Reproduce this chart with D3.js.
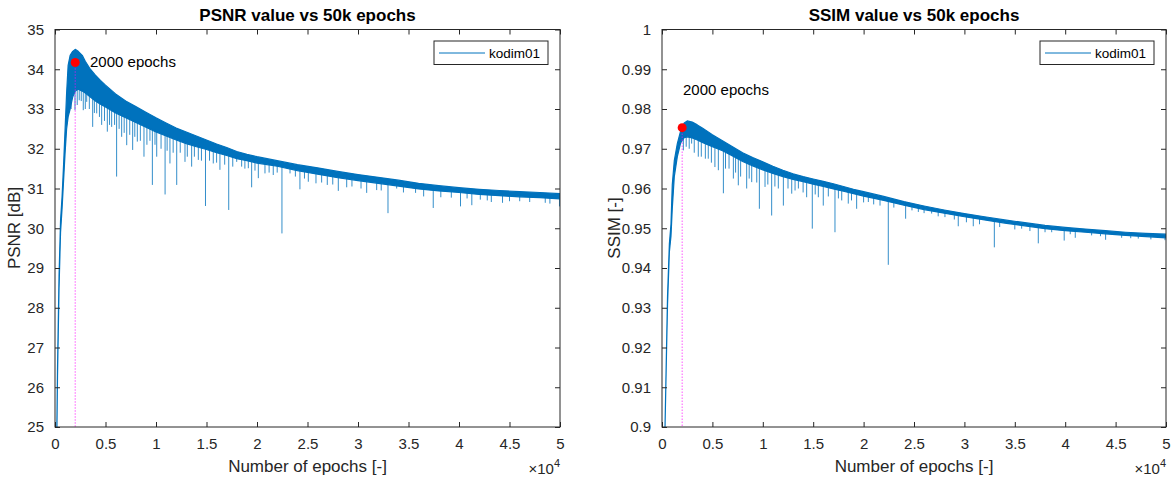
<!DOCTYPE html>
<html>
<head>
<meta charset="utf-8">
<script src="https://cdn.jsdelivr.net/npm/d3@7"></script>
<style>
  html, body { margin: 0; padding: 0; background: #fff; }
  svg { display: block; font-family: "Liberation Sans", Arial, Helvetica, sans-serif; }
</style>
</head>
<body>
<svg id="chart" width="1175" height="477"></svg>
<script>
// ---- shared x axis ----
const xTickValues = [0, 5000, 10000, 15000, 20000, 25000, 30000, 35000, 40000, 45000, 50000];
const xTickLabels = ["0", "0.5", "1", "1.5", "2", "2.5", "3", "3.5", "4", "4.5", "5"];
const markEpoch = 2000;

// ---- PSNR: upper / lower edge of the dense band, sampled by epoch ----
const psnrEpochs = [100, 250, 400, 550, 700, 850, 1000, 1150, 1300, 1500, 1750, 2000, 2300, 2700, 3000, 3500, 4000, 4500, 5000,
  6000, 7000, 8000, 9000, 10000, 11000, 12000, 13000, 14000, 15000, 16000, 17000, 18000, 19000, 20000,
  22000, 24000, 26000, 28000, 30000, 32000, 34000, 36000, 38000, 40000, 42000, 44000, 46000, 48000, 50000];
const psnrTop = [23.0, 26.5, 28.8, 30.2, 30.8, 31.6, 32.5, 33.4, 34.1, 34.35, 34.45, 34.5, 34.45, 34.35, 34.2, 34.0, 33.85, 33.72, 33.6,
  33.38, 33.2, 33.06, 32.92, 32.78, 32.65, 32.52, 32.42, 32.32, 32.22, 32.12, 32.03, 31.93, 31.86, 31.8,
  31.7, 31.6, 31.52, 31.43, 31.35, 31.28, 31.21, 31.13, 31.07, 31.02, 30.98, 30.95, 30.92, 30.9, 30.87];
const psnrBottom = [23.0, 26.3, 28.5, 29.9, 30.5, 31.2, 31.9, 32.5, 32.8, 33.0, 33.3, 33.45, 33.5, 33.45, 33.4, 33.3, 33.2, 33.12, 33.05,
  32.9, 32.78, 32.66, 32.54, 32.42, 32.32, 32.22, 32.13, 32.05, 31.98, 31.9, 31.83, 31.75, 31.7, 31.64,
  31.56, 31.45, 31.36, 31.27, 31.2, 31.13, 31.06, 30.99, 30.94, 30.9, 30.85, 30.82, 30.79, 30.77, 30.74];
// downward dips below the band: epoch and lowest value
const psnrDipEpochs = [1980, 2400, 2800, 3140, 3730, 4130, 4620, 5180, 5610, 6100, 6600, 7100, 7690, 8150, 8810, 9640, 10070, 10900,
  11380, 12050, 12870, 13530, 14190, 14900, 15670, 16330, 17200, 17990, 18480, 19140, 19470, 20130, 20790, 21610, 22470, 23270,
  24250, 25080, 25840, 26960, 28050, 28880, 30860, 31850, 32970, 33830, 35700, 37450, 39240, 40150, 41270, 42110, 43200, 44310,
  46010, 48540, 49950,
  1600, 2200, 2600, 3000, 3400, 3900, 4400, 4900, 5400, 5900, 6350, 6850, 7400, 7900, 8450, 9100, 9400, 9900, 10500, 11100,
  11700, 12400, 13100, 13800, 14500, 15300, 16000, 16800, 17600, 18800, 19800, 21200, 22000, 23800, 24700, 26400, 27500,
  29400, 30300, 32300, 34500, 36500, 38200, 40800, 42800, 45000, 47000, 49000];
const psnrDipValues = [32.97, 33.22, 32.97, 33.18, 32.55, 32.89, 32.6, 32.43, 32.55, 31.3, 32.3, 32.09, 31.97, 32.18, 31.8, 31.09, 31.8, 30.85,
  31.63, 31.09, 31.67, 31.55, 31.72, 30.56, 31.63, 31.47, 30.46, 31.67, 31.55, 31.51, 31.03, 31.26, 31.38, 31.34, 29.87, 31.38,
  30.98, 31.17, 31.13, 31.09, 30.94, 31.03, 30.89, 30.96, 30.38, 31.0, 30.89, 30.51, 30.77, 30.55, 30.58, 30.72, 30.66, 30.64,
  30.68, 30.64, 30.55,
  33.0, 33.1, 33.2, 33.0, 33.0, 32.9, 32.8, 32.7, 32.6, 32.6, 32.5, 32.4, 32.35, 32.3, 32.2, 32.1, 32.2, 32.1, 32.0, 31.95,
  31.9, 31.9, 31.8, 31.8, 31.7, 31.7, 31.65, 31.6, 31.55, 31.5, 31.45, 31.4, 31.4, 31.3, 31.25, 31.15, 31.1,
  31.05, 31.0, 30.95, 30.9, 30.8, 30.78, 30.75, 30.7, 30.68, 30.66, 30.62];
const psnrTicks = [25, 26, 27, 28, 29, 30, 31, 32, 33, 34, 35];
const psnrTickLabels = ["25", "26", "27", "28", "29", "30", "31", "32", "33", "34", "35"];
const psnrMark = 34.17;

// ---- SSIM ----
const ssimEpochs = [100, 300, 450, 550, 730, 890, 1020, 1220, 1520, 1850, 2200, 2500, 3000, 3500, 4000, 5000,
  6000, 7000, 8000, 9000, 10000, 11000, 12000, 13000, 14000, 15000, 16000, 17000, 18000, 19000, 20000,
  22000, 24000, 26000, 28000, 30000, 32000, 34000, 36000, 38000, 40000, 42000, 44000, 46000, 48000, 50000];
const ssimTop = [0.85, 0.90, 0.92, 0.933, 0.946, 0.951, 0.961, 0.967, 0.9713, 0.9745, 0.9765, 0.9770, 0.9767, 0.9760, 0.9752, 0.9735,
  0.9720, 0.9705, 0.9690, 0.9678, 0.9667, 0.9656, 0.9646, 0.9637, 0.9630, 0.9624, 0.9618, 0.9612, 0.9605, 0.9598, 0.9592,
  0.9580, 0.9567, 0.9556, 0.9546, 0.9537, 0.9529, 0.9521, 0.9514, 0.9507, 0.9502, 0.9498, 0.9494, 0.9490, 0.9487, 0.9485];
const ssimBottom = [0.85, 0.90, 0.919, 0.931, 0.944, 0.948, 0.955, 0.963, 0.968, 0.9715, 0.9728, 0.9730, 0.9727, 0.9722, 0.9716, 0.9705,
  0.9695, 0.9682, 0.9668, 0.9657, 0.9647, 0.9638, 0.9630, 0.9623, 0.9617, 0.9611, 0.9605, 0.9599, 0.9593, 0.9587, 0.9581,
  0.9570, 0.9558, 0.9547, 0.9538, 0.9529, 0.9521, 0.9513, 0.9506, 0.9499, 0.9494, 0.9490, 0.9486, 0.9482, 0.9479, 0.9476];
const ssimDipEpochs = [2120, 2940, 3600, 4590, 5250, 5590, 6090, 6650, 7080, 7570, 8400, 8900, 9660, 10220, 10880, 11540, 12040,
  12870, 13530, 14350, 14910, 15510, 16000, 17160, 17830, 18480, 19310, 20470, 21630, 22450, 24170, 25430, 26750, 28070,
  29390, 30880, 32970, 34360, 35680, 37330, 38660, 39900, 41000, 42620, 44010, 45600, 47250, 49900,
  2400, 2700, 3200, 3900, 4300, 4900, 6300, 7300, 7800, 8650, 9400, 10500, 11200, 12500, 13200, 14000, 15200, 16500,
  17500, 18800, 20000, 21000, 23000, 24800, 26000, 27400, 29000, 30200, 31500, 33500, 35000, 36500, 38000, 40500,
  43500, 46500, 48500];
const ssimDipValues = [0.9696, 0.9713, 0.968, 0.9675, 0.9654, 0.9646, 0.9588, 0.965, 0.9625, 0.9608, 0.960, 0.9616, 0.9549, 0.9604,
  0.9532, 0.960, 0.9557, 0.9587, 0.960, 0.9578, 0.9499, 0.9578, 0.9557, 0.949, 0.957, 0.9562, 0.9549, 0.9566, 0.9557, 0.9408,
  0.9524, 0.9541, 0.9537, 0.9528, 0.9505, 0.9505, 0.9452, 0.9511, 0.9499, 0.9462, 0.949, 0.9469, 0.9476, 0.9482, 0.9471,
  0.9476, 0.9474, 0.947,
  0.9705, 0.9700, 0.9690, 0.9680, 0.9675, 0.9665, 0.9650, 0.9640, 0.9630, 0.9625, 0.9615, 0.9610, 0.9605, 0.9600, 0.9595,
  0.9590, 0.9585, 0.9580, 0.9575, 0.9570, 0.9565, 0.9560, 0.9552, 0.9545, 0.9538, 0.9530, 0.9522, 0.9515, 0.9510, 0.9503,
  0.9497, 0.9493, 0.9490, 0.9485, 0.9480, 0.9475, 0.9472];
const ssimTicks = [0.9, 0.91, 0.92, 0.93, 0.94, 0.95, 0.96, 0.97, 0.98, 0.99, 1];
const ssimTickLabels = ["0.9", "0.91", "0.92", "0.93", "0.94", "0.95", "0.96", "0.97", "0.98", "0.99", "1"];
const ssimMark = 0.9753;

const seriesName = "kodim01";
const lineColor = "#0072BD";
const axisColor = "#262626";
const fontStack = '"Liberation Sans", Arial, Helvetica, sans-serif';

const svg = d3.select("#chart");

function drawPanel(cfg) {
  const x = d3.scaleLinear().domain([0, 50000]).range([cfg.left, cfg.right]);
  const y = d3.scaleLinear().domain(cfg.yDomain).range([427, 29.5]);
  const g = svg.append("g");
  const clipId = "clip-" + cfg.id;
  g.append("clipPath").attr("id", clipId)
    .append("rect").attr("x", cfg.left).attr("y", 29.5)
    .attr("width", cfg.right - cfg.left).attr("height", 427 - 29.5);

  const plot = g.append("g").attr("clip-path", `url(#${clipId})`);
  const rows = cfg.epochs.map((e, i) => ({ e, top: cfg.top[i], bottom: cfg.bottom[i] }));

  // dense band of the noisy curve
  const area = d3.area().x(d => x(d.e)).y0(d => y(d.bottom)).y1(d => y(d.top));
  plot.append("path").datum(rows).attr("d", area)
    .attr("fill", lineColor).attr("stroke", lineColor).attr("stroke-width", 1.2)
    .attr("stroke-linejoin", "round");

  // isolated dips below the band, hanging from its lower edge
  const edgeAt = e => {
    const i = Math.min(cfg.epochs.length - 1, Math.max(1, d3.bisectLeft(cfg.epochs, e)));
    const e0 = cfg.epochs[i - 1], e1 = cfg.epochs[i];
    const t = (e - e0) / (e1 - e0);
    return cfg.bottom[i - 1] + t * (cfg.bottom[i] - cfg.bottom[i - 1]);
  };
  plot.selectAll("line.dip").data(cfg.dipEpochs).join("line")
    .attr("class", "dip")
    .attr("x1", d => x(d)).attr("x2", d => x(d))
    .attr("y1", d => y(edgeAt(d)) - 2)
    .attr("y2", (d, i) => y(cfg.dipValues[i]))
    .attr("stroke", lineColor).attr("stroke-width", 1).attr("stroke-opacity", 0.8);

  // marker at 2000 epochs
  plot.append("line")
    .attr("x1", x(markEpoch)).attr("x2", x(markEpoch))
    .attr("y1", y(cfg.mark)).attr("y2", 427)
    .attr("stroke", "#FF00FF").attr("stroke-width", 1).attr("stroke-dasharray", "1,2");
  g.append("circle").attr("cx", x(markEpoch)).attr("cy", y(cfg.mark)).attr("r", 4.5)
    .attr("fill", "#FF0000");
  g.append("text").attr("x", cfg.markLabel[0]).attr("y", cfg.markLabel[1])
    .attr("font-size", 15).attr("fill", "#000").text(markEpoch + " epochs");

  // box and ticks on all four sides
  g.append("rect").attr("x", cfg.left).attr("y", 29.5)
    .attr("width", cfg.right - cfg.left).attr("height", 427 - 29.5)
    .attr("fill", "none").attr("stroke", axisColor).attr("stroke-width", 1);

  const tl = 5;
  const xb = d3.axisBottom(x).tickValues(xTickValues).tickSizeInner(-tl).tickSizeOuter(0)
    .tickPadding(11).tickFormat((d, i) => xTickLabels[i]);
  const xt = d3.axisTop(x).tickValues(xTickValues).tickSizeInner(-tl).tickSizeOuter(0).tickFormat("");
  const yl = d3.axisLeft(y).tickValues(cfg.yTicks).tickSizeInner(-tl).tickSizeOuter(0)
    .tickPadding(11).tickFormat((d, i) => cfg.yTickLabels[i]);
  const yr = d3.axisRight(y).tickValues(cfg.yTicks).tickSizeInner(-tl).tickSizeOuter(0).tickFormat("");

  const axes = [
    g.append("g").attr("transform", "translate(0,427)").call(xb),
    g.append("g").attr("transform", "translate(0,29.5)").call(xt),
    g.append("g").attr("transform", `translate(${cfg.left},0)`).call(yl),
    g.append("g").attr("transform", `translate(${cfg.right},0)`).call(yr)
  ];
  axes.forEach(a => {
    a.select(".domain").remove();
    a.selectAll("line").attr("stroke", axisColor);
    a.selectAll("text").attr("fill", axisColor).attr("font-size", 15)
      .style("font-family", fontStack);
  });

  const cx = (cfg.left + cfg.right) / 2;
  g.append("text").attr("x", cx).attr("y", 21).attr("text-anchor", "middle")
    .attr("font-size", 17).attr("font-weight", "bold").attr("fill", "#000").text(cfg.title);
  g.append("text").attr("x", cx).attr("y", 472).attr("text-anchor", "middle")
    .attr("font-size", 17).attr("fill", axisColor).text("Number of epochs [-]");
  const ex = g.append("text").attr("x", cfg.right).attr("y", 474).attr("text-anchor", "end")
    .attr("font-size", 15).attr("fill", axisColor);
  ex.append("tspan").text("\u00d710");
  ex.append("tspan").attr("dy", -7).attr("font-size", 11).text("4");
  g.append("text")
    .attr("transform", `translate(${cfg.yLabelX},228) rotate(-90)`)
    .attr("text-anchor", "middle").attr("font-size", 17).attr("fill", axisColor).text(cfg.yLabel);

  // legend
  const lg = g.append("g").attr("transform", `translate(${cfg.right - 126},41)`);
  lg.append("rect").attr("x", 0).attr("y", 0).attr("width", 114).attr("height", 23.5)
    .attr("fill", "#fff").attr("stroke", axisColor).attr("stroke-width", 1);
  lg.append("line").attr("x1", 5).attr("x2", 51).attr("y1", 12).attr("y2", 12)
    .attr("stroke", lineColor).attr("stroke-width", 1);
  lg.append("text").attr("x", 55).attr("y", 17).attr("font-size", 13.5).attr("fill", "#000").text(seriesName);
}

drawPanel({
  id: "psnr", left: 55, right: 560, yDomain: [25, 35],
  epochs: psnrEpochs, top: psnrTop, bottom: psnrBottom,
  dipEpochs: psnrDipEpochs, dipValues: psnrDipValues,
  yTicks: psnrTicks, yTickLabels: psnrTickLabels, mark: psnrMark,
  markLabel: [90, 67], title: "PSNR value vs 50k epochs", yLabel: "PSNR [dB]", yLabelX: 20
});
drawPanel({
  id: "ssim", left: 662, right: 1166, yDomain: [0.9, 1],
  epochs: ssimEpochs, top: ssimTop, bottom: ssimBottom,
  dipEpochs: ssimDipEpochs, dipValues: ssimDipValues,
  yTicks: ssimTicks, yTickLabels: ssimTickLabels, mark: ssimMark,
  markLabel: [683, 95], title: "SSIM value vs 50k epochs", yLabel: "SSIM [-]", yLabelX: 620
});
</script>
</body>
</html>
